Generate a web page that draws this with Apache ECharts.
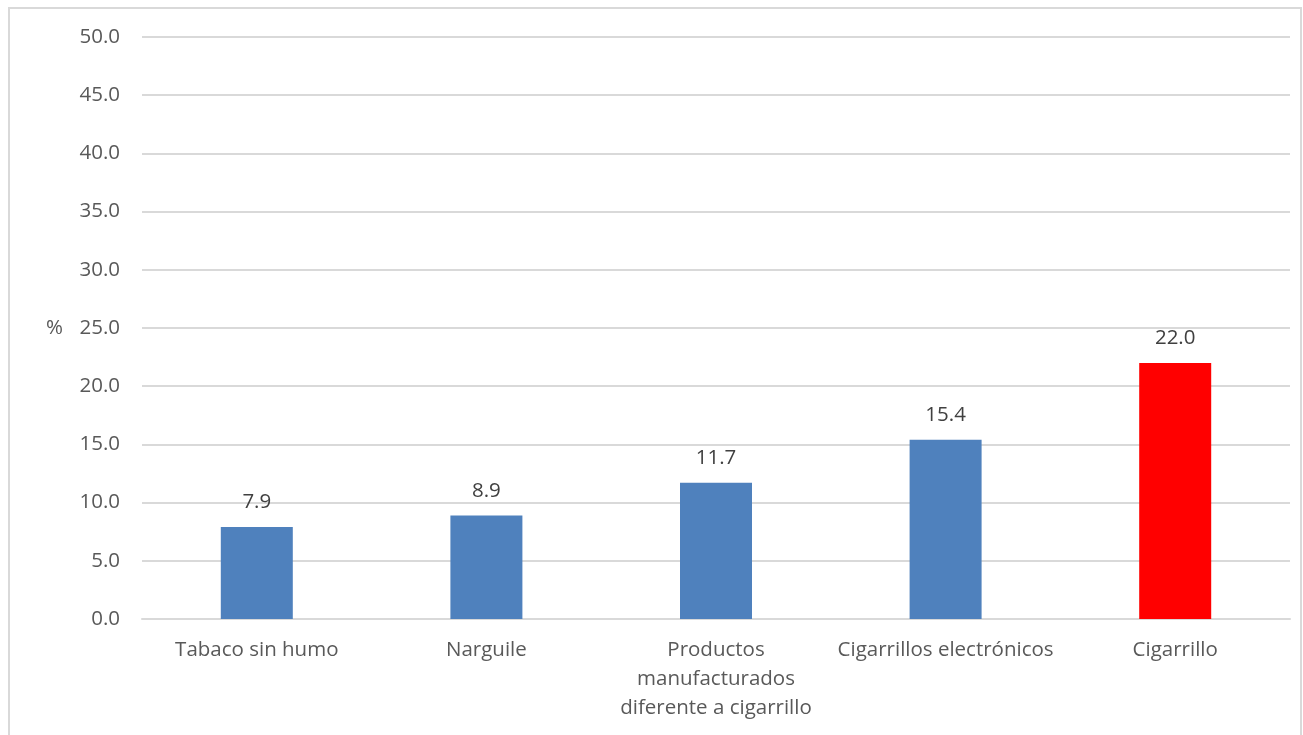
<!DOCTYPE html>
<html><head><meta charset="utf-8">
<script src="https://cdn.jsdelivr.net/npm/echarts@6/dist/echarts.min.js"></script>
<style>html,body{margin:0;padding:0;background:#fff}#c{width:1303px;height:735px}</style>
</head><body><div id="c"></div>
<script>
const categories = ['Tabaco sin humo', 'Narguile', 'Productos\nmanufacturados\ndiferente a cigarrillo', 'Cigarrillos electrónicos', 'Cigarrillo'];
const values = [7.9, 8.9, 11.7, 15.4, 22.0];
const barColors = ['#4F81BD', '#4F81BD', '#4F81BD', '#4F81BD', '#FF0000'];
const yName = '%';

const chart = echarts.init(document.getElementById('c'), null, {renderer: 'canvas'});
const font = 'Open Sans';
chart.setOption({
  animation: false,
  textStyle: {fontFamily: font},
  graphic: [{type: 'rect', shape: {x: 9, y: 8, width: 1292, height: 740}, style: {fill: 'none', stroke: '#d9d9d9', lineWidth: 2}, silent: true}],
  grid: {left: 142, right: 13, top: 37, bottom: 116},
  xAxis: {
    type: 'category', data: categories,
    axisTick: {show: false},
    axisLine: {lineStyle: {color: '#d9d9d9', width: 2}},
    axisLabel: {color: '#595959', fontSize: 20.5, lineHeight: 29, margin: 17, interval: 0, fontFamily: font}
  },
  yAxis: {
    type: 'value', min: 0, max: 50, interval: 5,
    name: yName, nameLocation: 'middle', nameRotate: 0, nameGap: 79,
    nameTextStyle: {color: '#595959', fontSize: 20.5, fontFamily: font},
    axisLine: {show: false}, axisTick: {show: false},
    splitLine: {lineStyle: {color: '#d9d9d9', width: 2}},
    axisLabel: {color: '#595959', fontSize: 20.5, margin: 22, fontFamily: font, formatter: v => v.toFixed(1)}
  },
  series: [{
    type: 'bar', barWidth: 72,
    data: values.map((v, i) => ({value: v, itemStyle: {color: barColors[i]}})),
    label: {show: true, position: 'top', distance: 14, color: '#404040', fontSize: 20.5, fontFamily: font, formatter: p => p.value.toFixed(1)}
  }]
});
</script></body></html>
